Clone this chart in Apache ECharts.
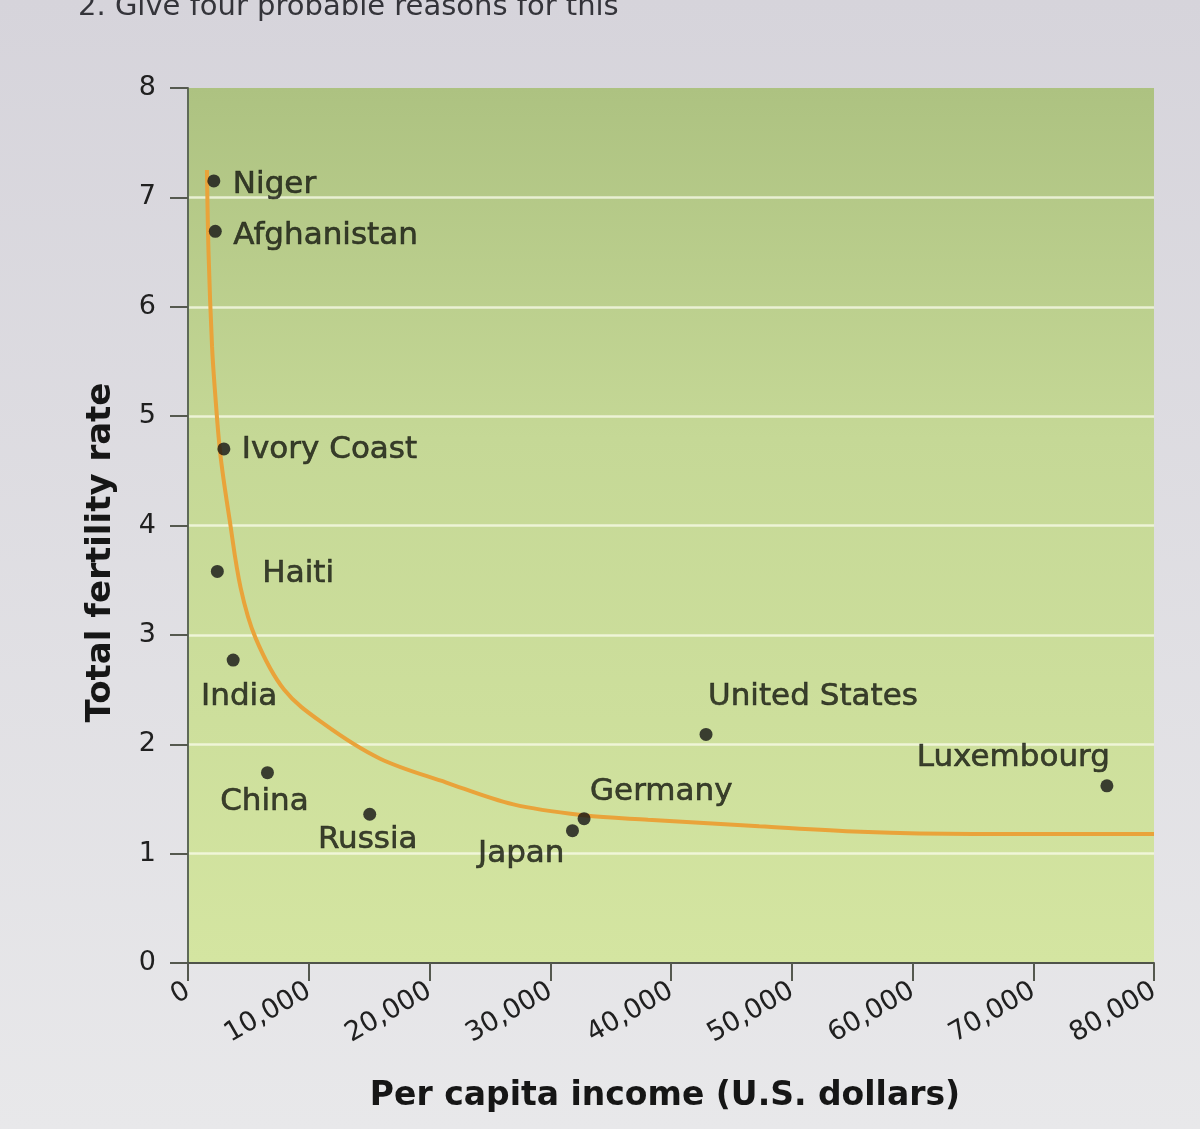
<!DOCTYPE html>
<html>
<head>
<meta charset="utf-8">
<script src="https://cdn.jsdelivr.net/npm/echarts@6/dist/echarts.min.js"></script>
<style>
  html, body { margin: 0; padding: 0; background: #e2e1e6; }
  #chart { width: 1200px; height: 1129px; }
</style>
</head>
<body>
<div id="chart"></div>
<script>
// ---- data ----
const countries = ['Niger', 'Afghanistan', 'Ivory Coast', 'Haiti', 'India', 'China', 'Russia', 'Japan', 'Germany', 'United States', 'Luxembourg'];
const income    = [2140, 2260, 2970, 2430, 3740, 6580, 15050, 31840, 32800, 42900, 76100];
const fertility = [7.15, 6.69, 4.70, 3.58, 2.77, 1.74, 1.36, 1.21, 1.32, 2.09, 1.62];

const trendIncome    = [1570, 1700, 1990, 2220, 2680, 3450, 4360, 5600, 7950, 11200, 15870, 21400, 26950, 32800, 38100, 47300, 55700, 65000, 80000];
const trendFertility = [7.25, 6.50, 5.64, 5.25, 4.65, 4.05, 3.43, 2.97, 2.50, 2.19, 1.87, 1.65, 1.45, 1.35, 1.31, 1.25, 1.20, 1.18, 1.18];

const xTitle = 'Per capita income (U.S. dollars)';
const yTitle = 'Total fertility rate';
const pageText = '2. Give four probable reasons for this';

// ---- label placement (style, not data) ----
const labelPlace = {
  'Niger':         { align: 'left',   dx: 19, dy: 4 },
  'Afghanistan':   { align: 'left',   dx: 18, dy: 5 },
  'Ivory Coast':   { align: 'left',   dx: 18, dy: 1 },
  'Haiti':         { align: 'left',   dx: 45, dy: 3 },
  'India':         { align: 'center', dx: 6,  dy: 37 },
  'China':         { align: 'center', dx: -3, dy: 29 },
  'Russia':        { align: 'center', dx: -2, dy: 26 },
  'Japan':         { align: 'right',  dx: -8, dy: 23 },
  'Germany':       { align: 'left',   dx: 6,  dy: -27 },
  'United States': { align: 'left',   dx: 2,  dy: -37 },
  'Luxembourg':    { align: 'right',  dx: 3,  dy: -28 }
};

const FONT = '"DejaVu Sans", "Liberation Sans", sans-serif';
const TEXT = '#14170f';
const chart = echarts.init(document.getElementById('chart'), null, { renderer: 'canvas' });

const pointData = countries.map((c, i) => {
  const p = labelPlace[c];
  return {
    name: c,
    value: [income[i], fertility[i]],
    label: {
      show: true,
      formatter: c,
      position: 'inside',
      align: p.align,
      verticalAlign: 'middle',
      offset: [p.dx, p.dy],
      fontFamily: FONT,
      fontSize: 31,
      color: TEXT,
      textBorderColor: TEXT,
      textBorderWidth: 0.6
    }
  };
});
const trendData = trendIncome.map((x, i) => [x, trendFertility[i]]);

const white = 'rgba(250,252,235,0.75)';
const clear = 'rgba(0,0,0,0)';

chart.setOption({
  animation: false,
  backgroundColor: {
    type: 'linear', x: 0, y: 0, x2: 0, y2: 1,
    colorStops: [{ offset: 0, color: '#d6d4db' }, { offset: 1, color: '#e8e8ea' }]
  },
  graphic: [{
    type: 'text',
    left: 78,
    top: -7,
    style: { text: pageText, font: '29px ' + FONT, fill: '#34343a' }
  }],
  grid: {
    left: 188, right: 46, top: 88, bottom: 166,
    show: true,
    borderWidth: 0,
    outerBoundsMode: 'none',
    backgroundColor: {
      type: 'linear', x: 0, y: 0, x2: 0, y2: 1,
      colorStops: [
        { offset: 0, color: '#adc281' },
        { offset: 0.4, color: '#c5d896' },
        { offset: 1, color: '#d4e5a1' }
      ]
    }
  },
  xAxis: {
    type: 'value',
    min: 0, max: 80000, interval: 10000,
    axisLine: { show: true, onZero: false, lineStyle: { color: '#4f534a', width: 2 } },
    axisTick: { show: true, inside: false, length: 18, lineStyle: { color: '#55594f', width: 2 } },
    splitLine: { show: false },
    axisLabel: {
      rotate: 30, margin: 26,
      fontFamily: FONT, fontSize: 27, color: '#202020',
      formatter: v => v.toLocaleString('en-US')
    },
    name: xTitle,
    nameLocation: 'middle',
    nameGap: 117,
    nameTextStyle: { fontFamily: FONT, fontSize: 33, fontWeight: 'bold', color: '#161616', padding: [0, 12, 0, 0] }
  },
  yAxis: {
    type: 'value',
    min: 0, max: 8, interval: 1,
    axisLine: { show: true, onZero: false, lineStyle: { color: '#5f6a58', width: 2 } },
    axisTick: { show: true, inside: false, length: 18, lineStyle: { color: '#55594f', width: 2 } },
    splitLine: { show: true, lineStyle: { color: [clear, white, white, white, white, white, white, white, clear], width: 2.5 } },
    axisLabel: { margin: 32, fontFamily: FONT, fontSize: 27, color: '#202020' },
    name: yTitle,
    nameLocation: 'middle',
    nameRotate: 90,
    nameGap: 70,
    nameTextStyle: { fontFamily: FONT, fontSize: 34, fontWeight: 'bold', color: '#161616', padding: [0, 54, 0, 0] }
  },
  series: [
    {
      type: 'line',
      data: trendData,
      showSymbol: false,
      smooth: 0.35,
      lineStyle: { color: '#e9a33a', width: 4 },
      z: 2,
      silent: true
    },
    {
      type: 'scatter',
      data: pointData,
      symbol: 'circle',
      symbolSize: 13,
      itemStyle: { color: '#141414' },
      z: 3
    }
  ]
});
</script>
</body>
</html>
